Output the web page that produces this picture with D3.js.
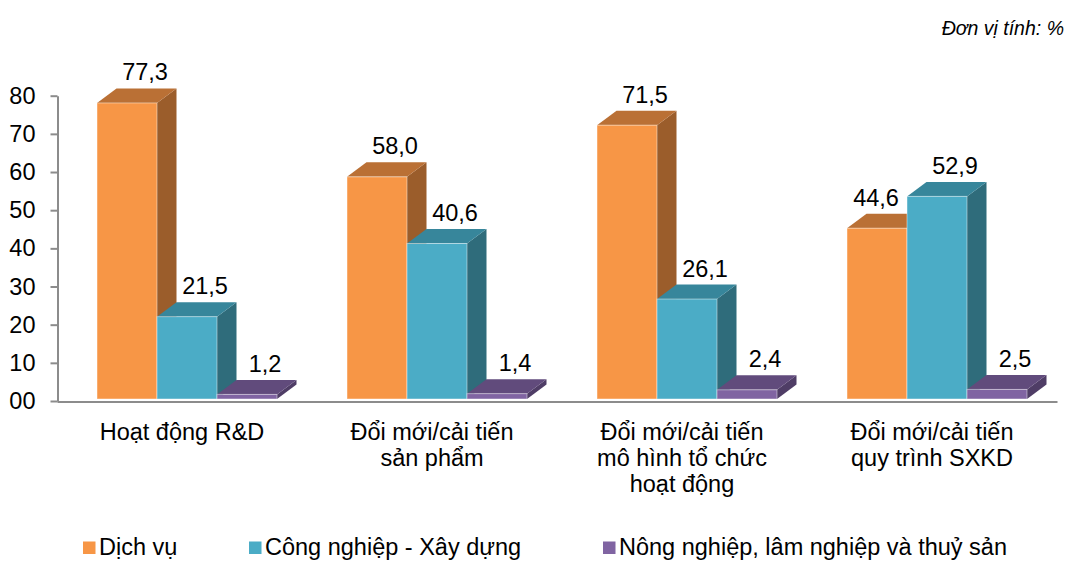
<!DOCTYPE html>
<html>
<head>
<meta charset="utf-8">
<script src="https://cdn.jsdelivr.net/npm/d3@7"></script>
<style>
  html, body { margin: 0; padding: 0; background: #ffffff; }
  svg { display: block; font-family: "Liberation Sans", Arial, sans-serif; }
</style>
</head>
<body>
<svg id="chart" width="1071" height="561"></svg>
<script>
// ---- data ----
const categories = [
  ["Hoạt động R&D"],
  ["Đổi mới/cải tiến", "sản phẩm"],
  ["Đổi mới/cải tiến", "mô hình tổ chức", "hoạt động"],
  ["Đổi mới/cải tiến", "quy trình SXKD"]
];
const seriesNames = ["Dịch vụ", "Công nghiệp - Xây dựng", "Nông nghiệp, lâm nghiệp và thuỷ sản"];
const dichVu = [77.3, 58.0, 71.5, 44.6];
const congNghiep = [21.5, 40.6, 26.1, 52.9];
const nongNghiep = [1.2, 1.4, 2.4, 2.5];
const yTicks = [0, 10, 20, 30, 40, 50, 60, 70, 80];
const unitLabel = "Đơn vị tính: %";

// ---- styles ----
const colors = [
  { front: "#F79646", top: "#BA7035", side: "#9B5D2B" },
  { front: "#4BACC6", top: "#37869B", side: "#2F6C7B" },
  { front: "#8064A2", top: "#614B7C", side: "#4F3D66" }
];
const FONT = 23.5;
const depthX = 19.5, depthY = -14.5;

const svg = d3.select("#chart");
const series = [dichVu, congNghiep, nongNghiep];

// scales
const x = d3.scaleBand().domain(d3.range(categories.length)).range([57, 1057]).padding(0);
const inner = d3.scaleBand().domain(d3.range(series.length)).range([40, 220]).padding(0);
const yAxisScale = d3.scaleLinear().domain([0, 80]).range([401, 95.7]);
const yFront = d3.scaleLinear().domain([0, 80]).range([399, 92.6]);

// y axis
const yAxis = svg.append("g").attr("transform", "translate(57.5,0)")
  .call(d3.axisLeft(yAxisScale).tickValues(yTicks).tickSize(7).tickSizeOuter(0)
    .tickPadding(15)
    .tickFormat(d => d === 0 ? "00" : String(d)));
yAxis.selectAll("path, line").attr("stroke", "#8c8c8c").attr("stroke-width", 2);
yAxis.selectAll("text").attr("font-size", FONT).attr("fill", "#000")
  .attr("font-family", "'Liberation Sans', Arial, sans-serif");

// x axis
const xAxis = svg.append("g").attr("transform", "translate(0,401.5)")
  .call(d3.axisBottom(x).tickSize(0).tickSizeOuter(0).tickFormat(""));
xAxis.select("path").attr("stroke", "#8c8c8c").attr("stroke-width", 2);

// bars
const bars = svg.append("g");
const labels = svg.append("g");
categories.forEach((c, ci) => {
  series.forEach((s, si) => {
    const v = s[ci];
    const col = colors[si];
    const x0 = x(ci) + inner(si);
    const w = inner.bandwidth();
    const yt = yFront(v), yb = yFront(0);
    const g = bars.append("g");
    // side face
    g.append("path")
      .attr("d", `M${x0 + w},${yt} L${x0 + w + depthX},${yt + depthY} L${x0 + w + depthX},${yb + depthY} L${x0 + w},${yb} Z`)
      .attr("fill", col.side);
    // top face
    g.append("path")
      .attr("d", `M${x0},${yt} L${x0 + depthX},${yt + depthY} L${x0 + w + depthX},${yt + depthY} L${x0 + w},${yt} Z`)
      .attr("fill", col.top);
    // front face
    g.append("rect")
      .attr("x", x0).attr("y", yt).attr("width", w).attr("height", yb - yt)
      .attr("fill", col.front)
      .attr("stroke", "rgba(255,255,255,0.45)").attr("stroke-width", 1);

    // value label: above the bar top, nudged left if the next bar is taller
    let cx = x0 + w / 2 + 18;
    const next = series[si + 1];
    if (next && next[ci] > v) {
      cx = Math.min(cx, x0 + w - 31);
    }
    labels.append("text")
      .attr("x", cx)
      .attr("y", yt + depthY - 8)
      .attr("text-anchor", "middle")
      .attr("font-size", FONT)
      .attr("fill", "#000")
      .text(v.toFixed(1).replace(".", ","));
  });
});

// category labels
const catG = svg.append("g");
categories.forEach((lines, ci) => {
  const t = catG.append("text")
    .attr("x", x(ci) + x.bandwidth() / 2)
    .attr("y", 440)
    .attr("text-anchor", "middle")
    .attr("font-size", FONT)
    .attr("fill", "#000");
  lines.forEach((ln, li) => {
    t.append("tspan").attr("x", x(ci) + x.bandwidth() / 2).attr("dy", li === 0 ? 0 : 26).text(ln);
  });
});

// unit label
svg.append("text")
  .attr("x", 1064).attr("y", 35)
  .attr("text-anchor", "end")
  .attr("font-size", 19.5)
  .attr("font-style", "italic")
  .attr("fill", "#000")
  .text(unitLabel);

// legend
const legendX = [83, 249, 603];
const legend = svg.append("g");
seriesNames.forEach((name, i) => {
  legend.append("rect")
    .attr("x", legendX[i]).attr("y", 541.5).attr("width", 12.5).attr("height", 12.5)
    .attr("fill", colors[i].front);
  legend.append("text")
    .attr("x", legendX[i] + 16).attr("y", 555)
    .attr("font-size", FONT).attr("fill", "#000")
    .text(name);
});
</script>
</body>
</html>
